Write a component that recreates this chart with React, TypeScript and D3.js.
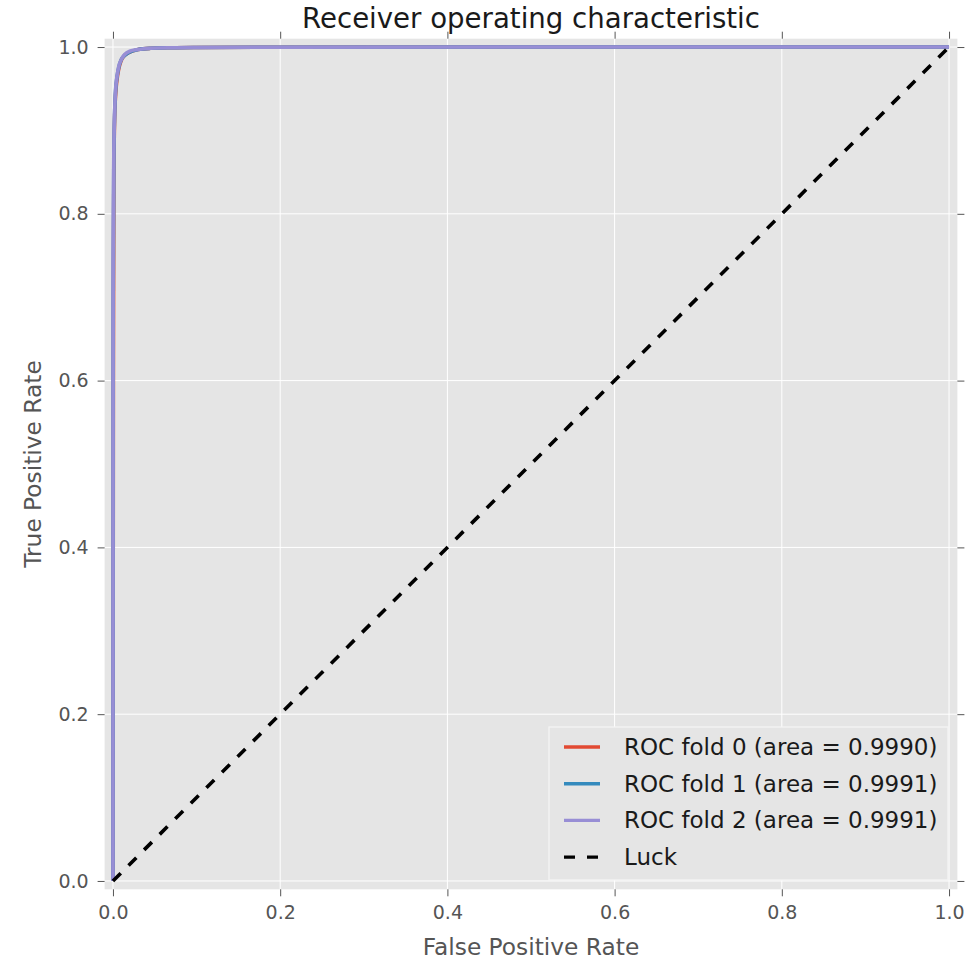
import React, { useEffect, useRef } from 'react';
import * as d3 from 'd3';

// ROC points (fpr, tpr) for each fold
const fold0Fpr = [0, 0.0005, 0.001, 0.002, 0.003, 0.005, 0.007, 0.01, 0.014, 0.02, 0.03, 0.045, 0.07, 0.1, 0.2, 0.5, 1.0];
const fold0Tpr = [0, 0.6, 0.84, 0.915, 0.94, 0.962, 0.974, 0.984, 0.99, 0.994, 0.997, 0.9985, 0.9992, 0.9995, 0.9998, 1.0, 1.0];
const fold1Fpr = [0, 0.0003, 0.001, 0.002, 0.003, 0.005, 0.007, 0.01, 0.014, 0.02, 0.03, 0.045, 0.07, 0.1, 0.2, 0.5, 1.0];
const fold1Tpr = [0, 0.7, 0.86, 0.92, 0.945, 0.965, 0.976, 0.985, 0.99, 0.994, 0.997, 0.9985, 0.9992, 0.9995, 0.9998, 1.0, 1.0];
const fold2Fpr = [0, 0.0002, 0.001, 0.002, 0.003, 0.005, 0.007, 0.01, 0.014, 0.02, 0.03, 0.045, 0.07, 0.1, 0.2, 0.5, 1.0];
const fold2Tpr = [0, 0.75, 0.87, 0.922, 0.947, 0.966, 0.977, 0.985, 0.991, 0.995, 0.997, 0.9985, 0.9992, 0.9995, 0.9998, 1.0, 1.0];
const luckLine = [0, 1];

const seriesNames = [
  'ROC fold 0 (area = 0.9990)',
  'ROC fold 1 (area = 0.9991)',
  'ROC fold 2 (area = 0.9991)',
  'Luck'
];
const seriesColors = ['#E24A33', '#348ABD', '#988ED5', '#000000'];
const tickValues = [0, 0.2, 0.4, 0.6, 0.8, 1.0];

const FONT = '"DejaVu Sans", sans-serif';

function App() {
  const ref = useRef<SVGSVGElement>(null);
  const width = 979;
  const height = 960;
  const plot = { left: 104.6, right: 957.4, top: 38.7, bottom: 889.3 };

  useEffect(() => {
    drawChart();
  }, []);

  function drawChart() {
    const svg = d3.select(ref.current);
    svg.selectAll('*').remove();

    const x = d3.scaleLinear().domain([-0.01, 1.01]).range([plot.left, plot.right]);
    const y = d3.scaleLinear().domain([-0.01, 1.01]).range([plot.bottom, plot.top]);

    // plot background
    svg
      .append('rect')
      .attr('x', plot.left)
      .attr('y', plot.top)
      .attr('width', plot.right - plot.left)
      .attr('height', plot.bottom - plot.top)
      .attr('fill', '#E5E5E5');

    // grid
    const grid = svg.append('g');
    tickValues.forEach(t => {
      grid
        .append('line')
        .attr('x1', x(t))
        .attr('x2', x(t))
        .attr('y1', plot.top)
        .attr('y2', plot.bottom)
        .attr('stroke', '#ffffff')
        .attr('stroke-width', 1);
      grid
        .append('line')
        .attr('x1', plot.left)
        .attr('x2', plot.right)
        .attr('y1', y(t))
        .attr('y2', y(t))
        .attr('stroke', '#ffffff')
        .attr('stroke-width', 1);
    });

    // axes with outward ticks on all four sides
    const fmt = d3.format('.1f');
    const axes = [
      { axis: d3.axisBottom(x).tickValues(tickValues).tickFormat(fmt), t: `translate(0,${plot.bottom})` },
      { axis: d3.axisLeft(y).tickValues(tickValues).tickFormat(fmt), t: `translate(${plot.left},0)` },
      { axis: d3.axisTop(x).tickValues(tickValues).tickFormat(() => ''), t: `translate(0,${plot.top})` },
      { axis: d3.axisRight(y).tickValues(tickValues).tickFormat(() => ''), t: `translate(${plot.right},0)` }
    ];
    axes.forEach(a => {
      const g = svg
        .append('g')
        .attr('transform', a.t)
        .call(a.axis.tickSize(7).tickPadding(9));
      g.select('.domain').remove();
      g.selectAll('.tick line').attr('stroke', '#555555').attr('stroke-width', 1);
      g.selectAll('.tick text')
        .attr('fill', '#555555')
        .style('font-family', FONT)
        .style('font-size', '19px');
    });

    const line = d3
      .line<[number, number]>()
      .x(d => x(d[0]))
      .y(d => y(d[1]));

    const curves: [number, number][][] = [
      fold0Fpr.map((f, i) => [f, fold0Tpr[i]]),
      fold1Fpr.map((f, i) => [f, fold1Tpr[i]]),
      fold2Fpr.map((f, i) => [f, fold2Tpr[i]])
    ];

    svg
      .append('clipPath')
      .attr('id', 'plot-clip')
      .append('rect')
      .attr('x', plot.left)
      .attr('y', plot.top)
      .attr('width', plot.right - plot.left)
      .attr('height', plot.bottom - plot.top);

    const lines = svg.append('g').attr('clip-path', 'url(#plot-clip)');
    curves.forEach((c, i) => {
      lines
        .append('path')
        .attr('d', line.curve(d3.curveMonotoneX)(c))
        .attr('fill', 'none')
        .attr('stroke', seriesColors[i])
        .attr('stroke-width', 3.6)
        .attr('stroke-linejoin', 'round');
    });

    // diagonal "luck" line
    lines
      .append('path')
      .attr('d', line.curve(d3.curveLinear)(luckLine.map(v => [v, v] as [number, number])))
      .attr('fill', 'none')
      .attr('stroke', '#000000')
      .attr('stroke-width', 3.6)
      .attr('stroke-dasharray', '11,11');

    // legend
    const legend = svg.append('g').attr('transform', 'translate(549,727)');
    legend
      .append('rect')
      .attr('width', 399)
      .attr('height', 153)
      .attr('fill', '#E5E5E5')
      .attr('stroke', '#F5F5F5')
      .attr('stroke-width', 1.2);

    seriesNames.forEach((name, i) => {
      const cy = 20 + i * 36.7;
      legend
        .append('line')
        .attr('x1', 15)
        .attr('x2', 51)
        .attr('y1', cy)
        .attr('y2', cy)
        .attr('stroke', seriesColors[i])
        .attr('stroke-width', 3.4)
        .attr('stroke-dasharray', i === 3 ? '11,12' : null);
      legend
        .append('text')
        .attr('x', 75)
        .attr('y', cy)
        .attr('dy', '0.35em')
        .style('font-family', FONT)
        .style('font-size', '23px')
        .attr('fill', '#1a1a1a')
        .text(name);
    });

    // title and axis labels
    svg
      .append('text')
      .attr('x', (plot.left + plot.right) / 2)
      .attr('y', 28)
      .attr('text-anchor', 'middle')
      .style('font-family', FONT)
      .style('font-size', '27.6px')
      .attr('fill', '#1a1a1a')
      .text('Receiver operating characteristic');

    svg
      .append('text')
      .attr('x', (plot.left + plot.right) / 2)
      .attr('y', 955)
      .attr('text-anchor', 'middle')
      .style('font-family', FONT)
      .style('font-size', '23.3px')
      .attr('fill', '#555555')
      .text('False Positive Rate');

    svg
      .append('text')
      .attr('transform', `translate(41,${(plot.top + plot.bottom) / 2}) rotate(-90)`)
      .attr('text-anchor', 'middle')
      .style('font-family', FONT)
      .style('font-size', '23.3px')
      .attr('fill', '#555555')
      .text('True Positive Rate');
  }

  return (
    <svg
      ref={ref}
      width={width}
      height={height}
      style={{ position: 'absolute', left: 0, top: 0, background: '#ffffff' }}
    />
  );
}

export default App;
